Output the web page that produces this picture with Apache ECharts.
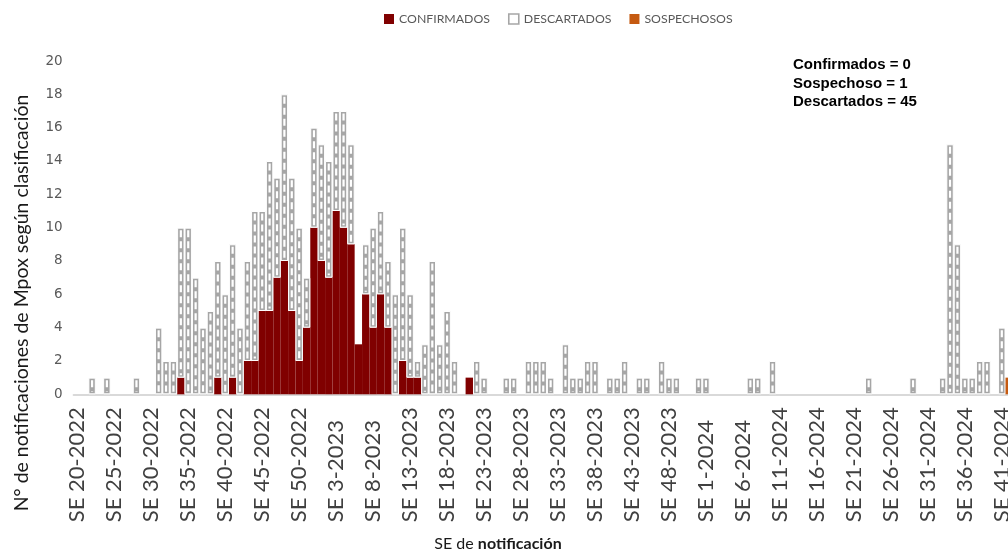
<!DOCTYPE html>
<html>
<head>
<meta charset="utf-8">
<script src="https://cdn.jsdelivr.net/npm/echarts@6/dist/echarts.min.js"></script>
<style>
html,body{margin:0;padding:0;background:#ffffff;}
#chart{width:1008px;height:551px;}
</style>
</head>
<body>
<div id="chart"></div>
<script>
// ---- Categories: epidemiological weeks (SE) ----
const weekRange2022 = [20, 52];
const weekRange2023 = [1, 52];
const weekRange2024 = [1, 42];

// ---- Series values (per week) ----
// 2022: SE 20 .. SE 52
const confirmados2022 = [0,0,0,0,0,0,0,0,0,0,0,0,0,0,1,0,0,0,0,1,0,1,0,2,2,5,5,7,8,5,2,4,10];
const descartados2022 = [0,0,1,0,1,0,0,0,1,0,0,4,2,2,9,10,7,4,5,7,6,8,4,6,9,6,9,6,10,8,8,3,6];
const sospechosos2022 = [0,0,0,0,0,0,0,0,0,0,0,0,0,0,0,0,0,0,0,0,0,0,0,0,0,0,0,0,0,0,0,0,0];
// 2023: SE 1 .. SE 52
const confirmados2023 = [8,7,11,10,9,3,6,4,6,4,0,2,1,1,0,0,0,0,0,0,1,0,0,0,0,0,0,0,0,0,0,0,0,0,0,0,0,0,0,0,0,0,0,0,0,0,0,0,0,0,0,0];
const descartados2023 = [7,7,6,7,6,0,3,6,5,4,6,8,5,1,3,8,3,5,2,0,0,2,1,0,0,1,1,0,2,2,2,1,0,3,1,1,2,2,0,1,1,2,0,1,1,0,2,1,1,0,0,1];
const sospechosos2023 = [0,0,0,0,0,0,0,0,0,0,0,0,0,0,0,0,0,0,0,0,0,0,0,0,0,0,0,0,0,0,0,0,0,0,0,0,0,0,0,0,0,0,0,0,0,0,0,0,0,0,0,0];
// 2024: SE 1 .. SE 42
const confirmados2024 = [0,0,0,0,0,0,0,0,0,0,0,0,0,0,0,0,0,0,0,0,0,0,0,0,0,0,0,0,0,0,0,0,0,0,0,0,0,0,0,0,0,0];
const descartados2024 = [1,0,0,0,0,0,1,1,0,2,0,0,0,0,0,0,0,0,0,0,0,0,1,0,0,0,0,0,1,0,0,0,1,15,9,1,1,2,2,0,4,0];
const sospechosos2024 = [0,0,0,0,0,0,0,0,0,0,0,0,0,0,0,0,0,0,0,0,0,0,0,0,0,0,0,0,0,0,0,0,0,0,0,0,0,0,0,0,0,1];

// ---- Texts ----
const seriesNames = ['CONFIRMADOS', 'DESCARTADOS', 'SOSPECHOSOS'];
const annotationLines = ['Confirmados = 0', 'Sospechoso = 1', 'Descartados = 45'];
const yTitle = 'N° de notificaciones de Mpox según clasificación';
const xTitleRegular = 'SE de ';
const xTitleBold = 'notificación';
const yTicks = {min: 0, max: 20, interval: 2};
const labelEvery = 5;

function weekLabels(year, range) {
  const out = [];
  for (let w = range[0]; w <= range[1]; w++) out.push('SE ' + w + '-' + year);
  return out;
}
const categories = [].concat(
  weekLabels(2022, weekRange2022),
  weekLabels(2023, weekRange2023),
  weekLabels(2024, weekRange2024)
);
const confirmados = [].concat(confirmados2022, confirmados2023, confirmados2024);
const descartados = [].concat(descartados2022, descartados2023, descartados2024);
const sospechosos = [].concat(sospechosos2022, sospechosos2023, sospechosos2024);

const nz = v => (v === 0 ? null : v);
const patternData = descartados.map((d, i) => [i, confirmados[i], d]);

const chart = echarts.init(document.getElementById('chart'), null, {renderer: 'canvas'});
chart.setOption({
  animation: false,
  backgroundColor: '#ffffff',
  grid: {left: 73.6, right: -4.9, top: 61, bottom: 156.7, containLabel: false, outerBoundsMode: 'none'},
  legend: {
    left: 384, top: 13, padding: 0,
    itemWidth: 10, itemHeight: 10, itemGap: 18,
    selectedMode: false,
    textStyle: {fontFamily: 'Lato', fontSize: 12.3, color: '#595959'},
    data: [
      {name: seriesNames[0], icon: 'rect', itemStyle: {color: '#800000', borderWidth: 0}},
      {name: seriesNames[1], icon: 'rect', itemStyle: {color: '#ffffff', borderColor: '#a6a6a6', borderWidth: 1.6}},
      {name: seriesNames[2], icon: 'rect', itemStyle: {color: '#c55a11', borderWidth: 0}}
    ]
  },
  xAxis: {
    type: 'category',
    data: categories,
    boundaryGap: true,
    axisTick: {show: false},
    axisLine: {lineStyle: {color: '#d9d9d9', width: 2}},
    axisLabel: {
      interval: labelEvery - 1,
      rotate: 90,
      align: 'left',
      verticalAlign: 'middle',
      margin: 128,
      fontFamily: 'Lato',
      fontSize: 22,
      color: '#404040'
    }
  },
  yAxis: {
    type: 'value',
    min: yTicks.min, max: yTicks.max, interval: yTicks.interval,
    axisLine: {show: false},
    axisTick: {show: false},
    splitLine: {show: false},
    axisLabel: {color: '#595959', fontFamily: 'DejaVu Sans', fontSize: 13.5, margin: 11}
  },
  series: [
    {
      name: seriesNames[0], type: 'bar', stack: 'total',
      barCategoryGap: '0%', barGap: '0%',
      data: confirmados.map(nz),
      itemStyle: {color: '#800000'}
    },
    {
      name: seriesNames[1], type: 'bar', stack: 'total',
      data: descartados.map(nz),
      itemStyle: {color: '#a6a6a6', borderColor: '#ffffff', borderWidth: 1}
    },
    {
      name: seriesNames[2], type: 'bar', stack: 'total',
      data: sospechosos.map(nz),
      itemStyle: {color: '#c55a11'}
    },
    {
      name: 'pattern', type: 'custom', silent: true, z: 5,
      encode: {x: 0, y: 2},
      data: patternData,
      renderItem: function (params, api) {
        const i = api.value(0), base = api.value(1), d = api.value(2);
        if (!d) return {type: 'group', children: []};
        const pTop = api.coord([i, base + d]);
        const pBot = api.coord([i, base]);
        return {
          type: 'line',
          shape: {x1: pTop[0], y1: pTop[1] + 2.5, x2: pTop[0], y2: pBot[1] - 2.5},
          style: {stroke: '#ffffff', lineWidth: 2.2, lineDash: [7, 4]}
        };
      }
    }
  ],
  graphic: [
    {
      type: 'text', x: 22, y: 303, rotation: Math.PI / 2,
      style: {text: yTitle, font: '19.5px Lato', fill: '#1a1a1a', align: 'center', verticalAlign: 'middle'}
    },
    {
      type: 'text', x: 498, y: 544,
      style: {
        text: '{a|' + xTitleRegular + '}{b|' + xTitleBold + '}',
        rich: {
          a: {fontFamily: 'Lato', fontSize: 16, fill: '#1a1a1a', color: '#1a1a1a'},
          b: {fontFamily: 'Lato', fontSize: 16, fontWeight: 'bold', fill: '#1a1a1a', color: '#1a1a1a'}
        },
        align: 'center', verticalAlign: 'middle'
      }
    },
    {
      type: 'text', x: 793, y: 65,
      style: {text: annotationLines[0], font: 'bold 15px "Liberation Sans"', fill: '#000000', align: 'left', verticalAlign: 'middle'}
    },
    {
      type: 'text', x: 793, y: 83.5,
      style: {text: annotationLines[1], font: 'bold 15px "Liberation Sans"', fill: '#000000', align: 'left', verticalAlign: 'middle'}
    },
    {
      type: 'text', x: 793, y: 102,
      style: {text: annotationLines[2], font: 'bold 15px "Liberation Sans"', fill: '#000000', align: 'left', verticalAlign: 'middle'}
    }
  ]
});
</script>
</body>
</html>
